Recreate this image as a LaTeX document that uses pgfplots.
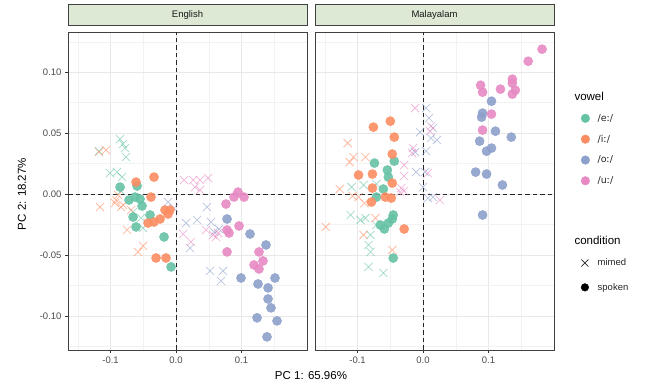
\documentclass[border=0pt]{standalone}
\usepackage{fontspec}
\setmainfont{Liberation Sans}
\newfontfamily\ipa{DejaVu Sans}
\usepackage{pgfplots}
\pgfplotsset{compat=1.18}
\definecolor{cE}{HTML}{66C2A5}
\definecolor{cI}{HTML}{FC8D62}
\definecolor{cO}{HTML}{8DA0CB}
\definecolor{cU}{HTML}{E78AC3}
\definecolor{strip}{HTML}{DDE9D5}
\pgfplotsset{
 panel/.style={
  scale only axis, width=239pt, height=318pt,
  xmin=-0.165, xmax=0.2, ymin=-0.128, ymax=0.133,
  xtick={-0.1,0,0.1}, xticklabels={-0.1,0.0,0.1},
  minor xtick={-0.15,-0.05,0.05,0.15},
  ytick={-0.1,-0.05,0,0.05,0.1},
  minor ytick={-0.125,-0.075,-0.025,0.025,0.075,0.125},
  grid=both,
  major grid style={color=black!9, line width=0.6pt},
  minor grid style={color=black!5, line width=0.35pt},
  axis line style={color=black!75, line width=0.5pt},
  tick align=outside, major tick length=3pt, minor tick length=0pt,
  xtick pos=lower, ytick pos=left,
  tick style={color=black!80, line width=0.5pt},
  ticklabel style={font=\fontsize{9.5}{11}\selectfont, color=black!70},
  title style={at={(0.5,1)}, anchor=south, yshift=0pt, fill=strip, draw=black!75, line width=0.5pt,
   minimum width=239pt, minimum height=21pt, inner sep=0pt, text=black!90, font=\fontsize{9.5}{11}\selectfont},
 },
 mim/.style={only marks, mark=x, mark size=5.8pt, line width=0.75pt, opacity=0.6, forget plot},
 spk/.style={only marks, mark=*, mark size=4.6pt, mark options={draw=none}, opacity=0.9, forget plot},
 zl/.style={black!85, dashed, line width=0.9pt, dash pattern=on 4.5pt off 3pt, forget plot},
}
\begin{document}
\begin{tikzpicture}
\useasboundingbox (0,0) rectangle (654pt,385pt);
% ---------------- English ----------------
\begin{axis}[panel, at={(68pt,35pt)}, anchor=south west, title={English},
 yticklabels={-0.10,-0.05,0.00,0.05,0.10}]
\addplot[zl] coordinates {(0,-0.128) (0,0.133)};
\addplot[zl] coordinates {(-0.165,0) (0.2,0)};
% mimed
\addplot[mim, cE] coordinates {(-0.0855,0.0451) (-0.0809,0.0410) (-0.0779,0.0377) (-0.0763,0.0303) (-0.1008,0.0172) (-0.0901,0.0180) (-0.0824,0.0139) (-0.1176,0.0352) (-0.0656,-0.0148) (-0.0504,-0.0279) (-0.0534,-0.0197) (-0.0840,0.0025)};
\addplot[mim, cI] coordinates {(-0.1176,0.0344) (-0.1069,0.0361) (-0.1160,-0.0107) (-0.0916,-0.0049) (-0.0885,-0.0008) (-0.0840,-0.0107) (-0.0931,-0.0074) (-0.0809,-0.0090) (-0.0687,-0.0131) (-0.0748,-0.0295) (-0.0580,-0.0475) (-0.0504,-0.0426)};
\addplot[mim, cO] coordinates {(-0.0122,-0.0066) (-0.0031,-0.0115) (0.0153,-0.0238) (0.0321,-0.0213) (0.0473,-0.0107) (0.0534,-0.0230) (0.0580,-0.0311) (0.0656,-0.0287) (0.0214,-0.0443) (0.0519,-0.0631) (0.0718,-0.0631) (0.0687,-0.0713)};
\addplot[mim, cU] coordinates {(0.0122,0.0115) (0.0260,0.0115) (0.0366,0.0115) (0.0489,0.0131) (0.0290,0.0057) (0.0366,0.0033) (0.0107,-0.0328) (0.0229,-0.0393) (0.0458,-0.0295) (0.0565,-0.0336) (0.0641,-0.0320) (0.0611,-0.0352)};
% spoken
\addplot[spk, cE] coordinates {(-0.0855,0.0057) (-0.0595,0.0066) (-0.0626,-0.0025) (-0.0718,-0.0049) (-0.0550,-0.0041) (-0.0519,-0.0098) (-0.0656,-0.0189) (-0.0611,-0.0270) (-0.0397,-0.0172) (-0.0183,-0.0352) (-0.0076,-0.0598)};
\addplot[spk, cI] coordinates {(-0.0611,0.0098) (-0.0336,0.0139) (-0.0382,-0.0025) (-0.0168,-0.0131) (-0.0092,-0.0131) (-0.0122,-0.0164) (-0.0244,-0.0205) (-0.0336,-0.0230) (-0.0427,-0.0238) (-0.0305,-0.0525) (-0.0153,-0.0525)};
\addplot[spk, cO] coordinates {(0.0779,-0.0205) (0.1130,-0.0328) (0.1374,-0.0418) (0.0992,-0.0689) (0.1252,-0.0738) (0.1511,-0.0689) (0.1405,-0.0770) (0.1405,-0.0861) (0.1450,-0.0934) (0.1237,-0.1016) (0.1542,-0.1041) (0.1389,-0.1172)};
\addplot[spk, cU] coordinates {(0.0947,0.0016) (0.0885,-0.0025) (0.1038,-0.0025) (0.0763,-0.0082) (0.0962,-0.0262) (0.0779,-0.0295) (0.0809,-0.0320) (0.0779,-0.0475) (0.1267,-0.0475) (0.1328,-0.0549) (0.1191,-0.0582) (0.1267,-0.0615)};
\end{axis}
% ---------------- Malayalam ----------------
\begin{axis}[panel, at={(315pt,35pt)}, anchor=south west, title={Malayalam},
 yticklabels={}, ytick style={draw=none},
 legend style={at={(1.10,0.755)}, anchor=north west, draw=none, fill=none,
  font=\fontsize{9.5}{11}\selectfont\ipa, row sep=8.3pt, text=black!85},
 legend cell align=left]
\addplot[zl] coordinates {(0,-0.128) (0,0.133)};
\addplot[zl] coordinates {(-0.165,0) (0.2,0)};
% mimed
\addplot[mim, cE] coordinates {(-0.1091,0.0057) (-0.0909,0.0074) (-0.0712,0.0082) (-0.1106,-0.0172) (-0.0955,-0.0213) (-0.0879,-0.0197) (-0.0712,-0.0254) (-0.0803,-0.0336) (-0.0833,-0.0418) (-0.0803,-0.0475) (-0.0833,-0.0598) (-0.0606,-0.0648)};
\addplot[mim, cI] coordinates {(-0.1152,0.0418) (-0.1061,0.0303) (-0.1121,0.0262) (-0.0879,0.0303) (-0.1273,0.0041) (-0.1076,-0.0016) (-0.0985,-0.0025) (-0.0894,-0.0074) (-0.1485,-0.0270) (-0.0727,-0.0197) (-0.0909,-0.0336) (-0.0470,-0.0459)};
\addplot[mim, cO] coordinates {(0.0045,0.0705) (0.0091,0.0623) (-0.0045,0.0508) (0.0152,0.0541) (0.0212,0.0443) (0.0121,0.0459) (-0.0121,0.0344) (0.0045,0.0352) (-0.0106,0.0180) (0.0030,0.0180) (0.0000,0.0057) (0.0076,-0.0033) (0.0152,-0.0025)};
\addplot[mim, cU] coordinates {(-0.0121,0.0705) (0.0121,0.0557) (0.0106,0.0516) (-0.0152,0.0377) (-0.0167,0.0336) (-0.0288,0.0238) (-0.0288,0.0148) (0.0076,0.0172) (-0.0333,0.0049) (-0.0348,0.0016) (-0.0288,0.0025) (0.0258,-0.0049)};
% spoken
\addplot[spk, cE] coordinates {(-0.0742,0.0254) (-0.0439,0.0270) (-0.0545,0.0197) (-0.0530,0.0139) (-0.0606,0.0041) (-0.0712,-0.0025) (-0.0455,-0.0172) (-0.0470,-0.0205) (-0.0530,-0.0238) (-0.0591,-0.0287) (-0.0652,-0.0254) (-0.0455,-0.0525)};
\addplot[spk, cI] coordinates {(-0.0500,0.0598) (-0.0758,0.0549) (-0.0439,0.0467) (-0.0470,0.0328) (-0.0985,0.0156) (-0.0773,0.0164) (-0.0470,0.0090) (-0.0773,0.0049) (-0.0788,-0.0066) (-0.0576,-0.0025) (-0.0485,-0.0033) (-0.0288,-0.0287)};
\addplot[spk, cO] coordinates {(0.1045,0.0762) (0.0909,0.0664) (0.0894,0.0631) (0.1106,0.0516) (0.1348,0.0467) (0.0864,0.0434) (0.0970,0.0352) (0.1045,0.0377) (0.0803,0.0180) (0.0970,0.0164) (0.1212,0.0074) (0.0909,-0.0172)};
\addplot[spk, cU] coordinates {(0.1818,0.1189) (0.1606,0.1090) (0.1364,0.0943) (0.1364,0.0910) (0.1409,0.0852) (0.1364,0.0820) (0.1182,0.0861) (0.0879,0.0893) (0.0909,0.0836) (0.1045,0.0656) (0.0909,0.0525)};
\addlegendimage{only marks, mark=*, mark size=4.3pt, cE, mark options={draw=none}}
\addlegendentry{\hspace{6pt}/eː/}
\addlegendimage{only marks, mark=*, mark size=4.3pt, cI, mark options={draw=none}}
\addlegendentry{\hspace{6pt}/iː/}
\addlegendimage{only marks, mark=*, mark size=4.3pt, cO, mark options={draw=none}}
\addlegendentry{\hspace{6pt}/oː/}
\addlegendimage{only marks, mark=*, mark size=4.3pt, cU, mark options={draw=none}}
\addlegendentry{\hspace{6pt}/uː/}
\end{axis}
% ---------------- condition legend ----------------
\begin{axis}[scale only axis, width=239pt, height=318pt, at={(315pt,35pt)}, anchor=south west,
 hide axis, xmin=0, xmax=1, ymin=0, ymax=1,
 legend style={at={(1.10,0.30)}, anchor=north west, draw=none, fill=none,
  font=\fontsize{9.5}{11}\selectfont, row sep=12pt, text=black!85},
 legend cell align=left]
\addlegendimage{only marks, mark=x, mark size=5pt, line width=0.7pt, black!85}
\addlegendentry{\hspace{7pt}mimed}
\addlegendimage{only marks, mark=*, mark size=3.8pt, black}
\addlegendentry{\hspace{7pt}spoken}
\end{axis}
\node[anchor=west, font=\fontsize{11.5}{13}\selectfont] at (571pt,289pt) {vowel};
\node[anchor=west, font=\fontsize{11.5}{13}\selectfont] at (571pt,145pt) {condition};
\node[font=\fontsize{11.5}{13}\selectfont] at (311pt,9pt) {PC 1: 65.96\%};
\node[rotate=90, font=\fontsize{11.5}{13}\selectfont] at (22pt,191pt) {PC 2: 18.27\%};
\end{tikzpicture}
\end{document}
